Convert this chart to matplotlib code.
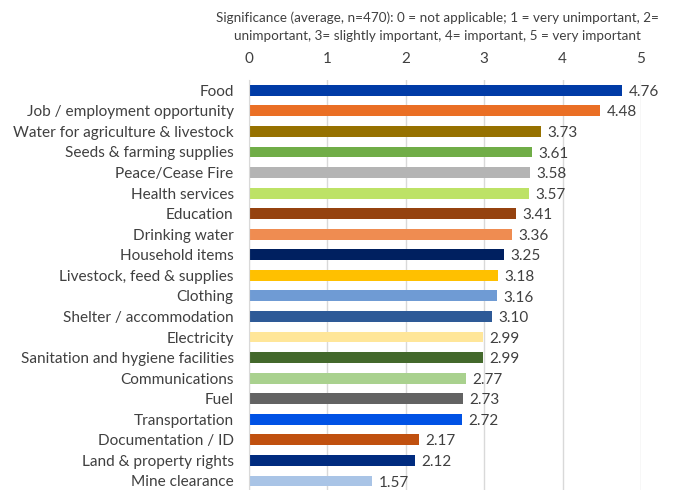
import matplotlib
matplotlib.use("Agg")
import matplotlib.pyplot as plt

categories = [
    "Food", "Job / employment opportunity", "Water for agriculture & livestock",
    "Seeds & farming supplies", "Peace/Cease Fire", "Health services", "Education",
    "Drinking water", "Household items", "Livestock, feed & supplies", "Clothing",
    "Shelter / accommodation", "Electricity", "Sanitation and hygiene facilities",
    "Communications", "Fuel", "Transportation", "Documentation / ID",
    "Land & property rights", "Mine clearance",
]
values = [4.76, 4.48, 3.73, 3.61, 3.58, 3.57, 3.41, 3.36, 3.25, 3.18, 3.16,
          3.10, 2.99, 2.99, 2.77, 2.73, 2.72, 2.17, 2.12, 1.57]
colors = ["#003BA6", "#EA6F25", "#967100", "#70AD47", "#B4B4B4", "#BDE266",
          "#95420F", "#EF8C51", "#002060", "#FFC000", "#6F9BD4", "#2E5A97",
          "#FFE699", "#43682B", "#A9D18E", "#636363", "#0052E5", "#C0500F",
          "#002B7F", "#A9C4E6"]
xticks = [0, 1, 2, 3, 4, 5]
title = ("Significance (average, n=470): 0 = not applicable; 1 = very unimportant, 2=\n"
         "unimportant, 3= slightly important, 4= important, 5 = very important")

plt.rcParams["font.family"] = ["Lato", "DejaVu Sans"]
text_color = "#404040"

fig = plt.figure(figsize=(6.74, 4.9), dpi=100)
ax = fig.add_axes([249 / 674, 0.0, 392 / 674, 1 - 80 / 490])

ypos = list(range(len(categories)))
ax.barh(ypos, values, height=0.53, color=colors, zorder=3)
for y, v in zip(ypos, values):
    ax.text(v + 0.08, y + 0.08, f"{v:.2f}", va="center", ha="left",
            fontsize=11, color=text_color)

ax.set_xlim(0, 5)
ax.set_ylim(19.44, -0.5)
ax.set_yticks(ypos)
ax.set_yticklabels(categories, fontsize=11.1, color=text_color)
ax.set_xticks(xticks)
ax.xaxis.tick_top()
ax.tick_params(axis="x", labelsize=11, colors=text_color, length=0, pad=10)
ax.tick_params(axis="y", length=0, pad=11)
ax.grid(axis="x", color="#D9D9D9", linewidth=1, zorder=0)
for s in ["top", "right", "bottom"]:
    ax.spines[s].set_visible(False)
ax.spines["left"].set_color("#D9D9D9")
ax.spines["left"].set_zorder(4)

fig.text(437 / 674, 1 - 27 / 490, title, ha="center", va="center",
         fontsize=9.7, color=text_color, linespacing=1.6)

fig.savefig("out.png", dpi=100)
